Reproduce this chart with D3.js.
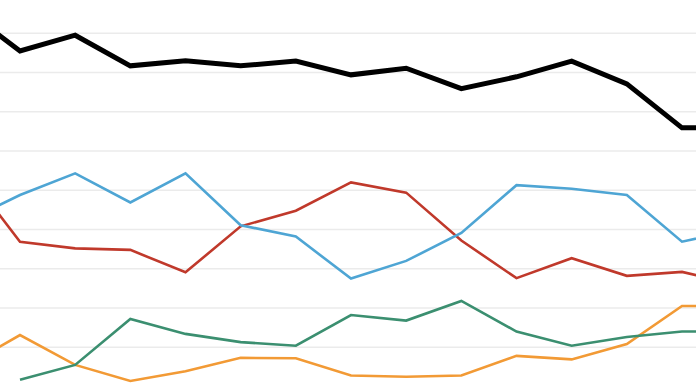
<!DOCTYPE html>
<html>
<head>
<meta charset="utf-8">
<script src="https://cdn.jsdelivr.net/npm/d3@7"></script>
<style>
  html, body { margin: 0; padding: 0; background: #fff; }
  svg { display: block; }
</style>
</head>
<body>
<svg id="chart" width="696" height="385"></svg>
<script>
// periods: the chart is cropped, so one point sits off each edge
const periods = d3.range(-1, 14);

const total  = [96.0, 85.5, 89.5, 81.7, 83.0, 81.7, 82.9, 79.4, 81.1, 75.9, 78.9, 82.9, 77.1, 65.9, 65.9];
const blue   = [41.9, 48.8, 54.3, 46.9, 54.3, 41.1, 38.2, 27.5, 32.0, 39.1, 51.3, 50.4, 48.8, 36.9, 40.0];
const red    = [55.2, 36.9, 35.2, 34.8, 29.1, 40.8, 44.8, 52.0, 49.4, 37.2, 27.6, 32.7, 28.2, 29.2, 26.0];
const green  = [null, 1.7, 5.5, 17.2, 13.4, 11.3, 10.4, 18.2, 16.8, 21.8, 14.0, 10.4, 12.6, 14.0, 14.0];
const orange = [5.0, 13.1, 5.5, 1.4, 3.9, 7.3, 7.2, 2.8, 2.5, 2.8, 7.8, 6.9, 10.8, 20.5, 20.5];

const gridTicks = d3.range(0, 101, 10);

const svg = d3.select('#chart');

const x = d3.scaleLinear().domain([0, 12]).range([20, 682]);
const y = d3.scaleLinear().domain([0, 100]).range([386.5, -6]);

// gridlines
svg.append('g')
  .selectAll('line')
  .data(gridTicks)
  .enter()
  .append('line')
  .attr('x1', 0)
  .attr('x2', 696)
  .attr('y1', d => y(d))
  .attr('y2', d => y(d))
  .attr('stroke', '#ebebeb')
  .attr('stroke-width', 1.5);

const series = [
  { name: 'orange', values: orange, color: '#f29a35', width: 2.6 },
  { name: 'green',  values: green,  color: '#3b8f70', width: 2.6 },
  { name: 'red',    values: red,    color: '#c0392b', width: 2.6 },
  { name: 'blue',   values: blue,   color: '#4ea5d4', width: 2.6 },
  { name: 'total',  values: total,  color: '#000000', width: 5 }
];

const line = d3.line()
  .defined(d => d.v !== null)
  .x(d => x(d.p))
  .y(d => y(d.v));

svg.append('g')
  .selectAll('path')
  .data(series)
  .enter()
  .append('path')
  .attr('fill', 'none')
  .attr('stroke', d => d.color)
  .attr('stroke-width', d => d.width)
  .attr('stroke-linejoin', 'miter')
  .attr('d', d => line(d.values.map((v, i) => ({ p: periods[i], v }))));
</script>
</body>
</html>
